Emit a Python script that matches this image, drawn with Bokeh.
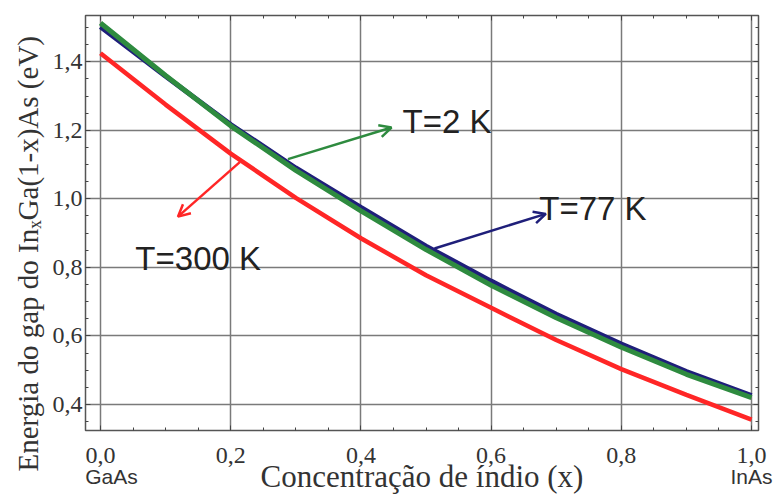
from bokeh.plotting import figure
from bokeh.models import (Range1d, FixedTicker, CustomJSTickFormatter, LinearAxis,
                          Label, Arrow, OpenHead, Title)
from bokeh.embed import file_html
from bokeh.resources import INLINE

# ---- data ----
x_conc = [0.0, 0.1, 0.2, 0.3, 0.4, 0.5, 0.6, 0.7, 0.8, 0.9, 1.0]
eg_77k = [1.502, 1.358, 1.217, 1.090, 0.975, 0.862, 0.760, 0.663, 0.576, 0.496, 0.426]
eg_2k = [1.513, 1.360, 1.213, 1.083, 0.965, 0.852, 0.748, 0.653, 0.567, 0.488, 0.420]
eg_300k = [1.425, 1.275, 1.132, 1.003, 0.885, 0.777, 0.682, 0.588, 0.503, 0.428, 0.356]

x_ticks = [0.0, 0.2, 0.4, 0.6, 0.8, 1.0]
y_ticks = [0.4, 0.6, 0.8, 1.0, 1.2, 1.4]
x_minor = [i * 0.05 for i in range(0, 21)]
y_minor = [0.35 + i * 0.05 for i in range(0, 25)]

series_labels = ["T=2 K", "T=77 K", "T=300 K"]
end_labels = ["GaAs", "InAs"]
end_ticks = [0.017, 1.0]
y_title = "Energia do gap do In\u2093Ga(1-x)As (eV)"
x_title = "Concentração de índio (x)"

C_BLUE = "#1f1f7a"
C_GREEN = "#2e8b3f"
C_RED = "#ff2626"
C_TXT = "#333333"

p = figure(width=775, height=496, output_backend="svg", toolbar_location=None,
           x_range=Range1d(-0.023, 1.0107), y_range=Range1d(0.324, 1.535),
           min_border_left=85, min_border_right=17, min_border_top=15, min_border_bottom=62)
p.background_fill_color = "white"
p.border_fill_color = "white"
p.outline_line_color = "#555555"
p.outline_line_width = 1.5

fmt = CustomJSTickFormatter(code="return tick.toFixed(1).replace('.', ',');")
blank = CustomJSTickFormatter(code="return '';")

xa = p.xaxis[0]
xa.ticker = FixedTicker(ticks=x_ticks, minor_ticks=x_minor)
xa.formatter = fmt
ya = p.yaxis[0]
ya.ticker = FixedTicker(ticks=y_ticks, minor_ticks=y_minor)
ya.formatter = fmt

for ax in (xa, ya):
    ax.axis_line_color = None
    ax.major_tick_in = 5
    ax.major_tick_out = 0
    ax.minor_tick_in = 3
    ax.minor_tick_out = 0
    ax.major_tick_line_color = "#444444"
    ax.minor_tick_line_color = "#444444"
    ax.major_label_text_font = "Liberation Serif"
    ax.major_label_text_font_size = "24px"
    ax.major_label_text_color = C_TXT

xa.major_label_standoff = 17
ya.major_label_standoff = 3

# y title as a left-side title (allows positioning along the axis)
p.add_layout(Title(text=y_title, align="left", offset=-41, vertical_align="bottom",
                   standoff=12, text_font="Liberation Serif", text_font_size="29px",
                   text_font_style="normal", text_color=C_TXT), "left")

# second row under the x axis: GaAs / InAs, carrying the axis title
xb = LinearAxis(ticker=FixedTicker(ticks=end_ticks, minor_ticks=[]),
                formatter=CustomJSTickFormatter(code="return tick < 0.5 ? 'GaAs' : 'InAs';"),
                axis_line_color=None, major_tick_in=0, major_tick_out=0,
                minor_tick_in=0, minor_tick_out=0,
                major_label_standoff=-1,
                major_label_text_font="Liberation Sans",
                major_label_text_font_size="21px",
                major_label_text_color=C_TXT)
xb.axis_label = x_title
xb.axis_label_text_font = "Liberation Serif"
xb.axis_label_text_font_size = "31px"
xb.axis_label_text_font_style = "normal"
xb.axis_label_text_color = C_TXT
xb.axis_label_standoff = -32
p.add_layout(xb, "below")

# extra axes on top and right: ticks only
top = LinearAxis(ticker=FixedTicker(ticks=x_ticks, minor_ticks=x_minor), formatter=blank,
                 axis_line_color=None,
                 major_tick_in=5, major_tick_out=0, minor_tick_in=3, minor_tick_out=0,
                 major_tick_line_color="#444444", minor_tick_line_color="#444444",
                 major_label_standoff=0, major_label_text_font_size="1px")
right = LinearAxis(ticker=FixedTicker(ticks=y_ticks, minor_ticks=y_minor), formatter=blank,
                   axis_line_color=None,
                   major_tick_in=5, major_tick_out=0, minor_tick_in=3, minor_tick_out=0,
                   major_tick_line_color="#444444", minor_tick_line_color="#444444",
                   major_label_standoff=0, major_label_text_font_size="1px")
p.add_layout(top, "above")
p.add_layout(right, "right")

p.xgrid.ticker = FixedTicker(ticks=x_ticks)
p.ygrid.ticker = FixedTicker(ticks=y_ticks)
for g in (p.xgrid[0], p.ygrid[0]):
    g.grid_line_color = "#7a7a7a"
    g.grid_line_width = 1.5

# curves
p.line(x_conc, eg_77k, line_color=C_BLUE, line_width=5)
p.line(x_conc, eg_2k, line_color=C_GREEN, line_width=5)
p.line(x_conc, eg_300k, line_color=C_RED, line_width=4.5)

# arrows
p.add_layout(Arrow(x_start=0.288, y_start=1.116, x_end=0.447, y_end=1.208,
                   line_color=C_GREEN, line_width=2.5,
                   end=OpenHead(size=12, line_color=C_GREEN, line_width=2.5)))
p.add_layout(Arrow(x_start=0.214, y_start=1.107, x_end=0.119, y_end=0.948,
                   line_color=C_RED, line_width=2.5,
                   end=OpenHead(size=12, line_color=C_RED, line_width=2.5)))
p.add_layout(Arrow(x_start=0.513, y_start=0.855, x_end=0.684, y_end=0.956,
                   line_color=C_BLUE, line_width=2.5,
                   end=OpenHead(size=12, line_color=C_BLUE, line_width=2.5)))

# series labels
for txt, lx, ly in zip(series_labels, [0.464, 0.674, 0.0536], [1.2266, 0.971, 0.827]):
    p.add_layout(Label(x=lx, y=ly, text=txt, text_font="Liberation Sans",
                       text_font_size="33px", text_color="#222222",
                       text_align="left", text_baseline="alphabetic"))

open("out.html", "w").write(file_html(p, INLINE))
